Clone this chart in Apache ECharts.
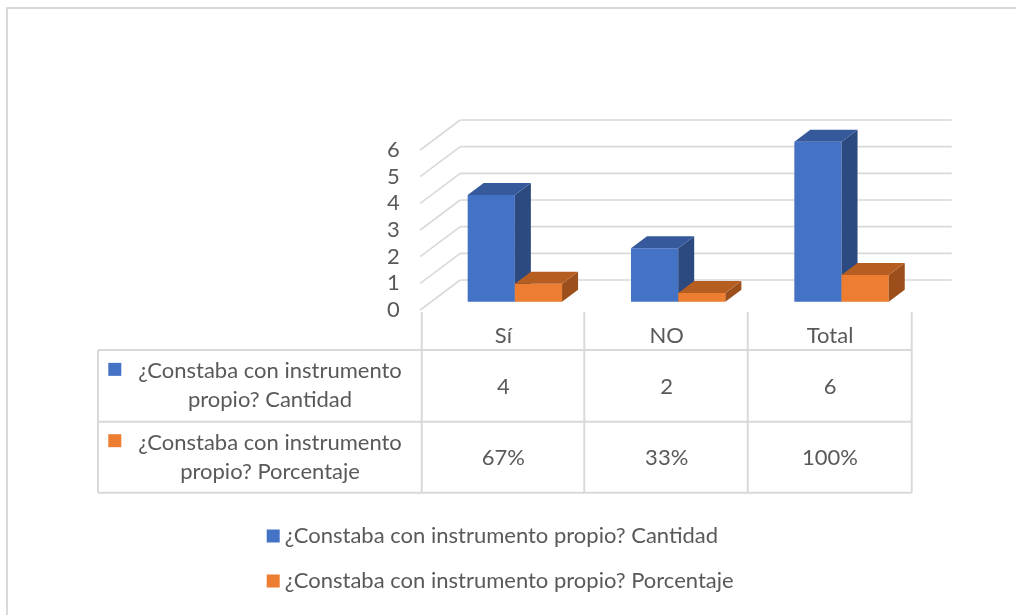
<!DOCTYPE html>
<html>
<head>
<meta charset="utf-8">
<style>
  html, body { margin: 0; padding: 0; background: #fff; }
  #chart { width: 1016px; height: 615px; }
</style>
<script src="https://cdn.jsdelivr.net/npm/echarts@6/dist/echarts.min.js"></script>
</head>
<body>
<div id="chart"></div>
<script>
// data
var categories = ['Sí', 'NO', 'Total'];
var cantidad = [4, 2, 6];
var porcentaje = [0.67, 0.33, 1.0];
var seriesNames = [
    '¿Constaba con instrumento propio? Cantidad',
    '¿Constaba con instrumento propio? Porcentaje'
];
var yTicks = [0, 1, 2, 3, 4, 5, 6];

var FONT = 'Lato, "Liberation Sans", sans-serif';
var FS = 22;
var TEXT = '#595959';
var LINE = '#D9D9D9';

// fake 3D look of the Excel chart
var WALL_DX = 40, WALL_DY = 30;   // depth of the back wall
var BAR_SX = 11.5, BAR_SY = 8.3;  // bars sit a bit behind the front plane
var BAR_DX = 16, BAR_DY = 12;     // depth of each bar
var BAR_FRAC = 0.289;             // bar width as part of the category band

var colors = [
    { front: '#4472C4', top: '#35599B', side: '#2C4A80' },
    { front: '#ED7D31', top: '#B65E22', side: '#9C4F1B' }
];

function pct(v) { return Math.round(v * 100) + '%'; }

function wallRenderer(params, api) {
    var p = api.coord([0, api.value(1)]);
    var catW = api.size([1, 0])[0];
    var xl = p[0] - catW / 2 - 1.5;
    var xr = xl + categories.length * catW + 1.5;
    var style = { stroke: LINE, lineWidth: 1.6 };
    return {
        type: 'group',
        children: [
            { type: 'line', shape: { x1: xl, y1: p[1], x2: xl + WALL_DX, y2: p[1] - WALL_DY }, style: style },
            { type: 'line', shape: { x1: xl + WALL_DX, y1: p[1] - WALL_DY, x2: xr + WALL_DX, y2: p[1] - WALL_DY }, style: style }
        ]
    };
}

function barRenderer(idx) {
    var c = colors[idx];
    return function(params, api) {
        var cat = api.value(0), val = api.value(1);
        var base = api.coord([cat, 0]);
        var tip = api.coord([cat, val]);
        var catW = api.size([1, 0])[0];
        var w = catW * BAR_FRAC;
        var x0 = base[0] - w + idx * w + BAR_SX;
        var x1 = x0 + w;
        var yb = base[1] - BAR_SY;
        var yt = tip[1] - BAR_SY;
        return {
            type: 'group',
            children: [
                { type: 'rect', shape: { x: x0, y: yt, width: w, height: yb - yt }, style: { fill: c.front } },
                { type: 'polygon', shape: { points: [[x1, yt], [x1 + BAR_DX, yt - BAR_DY], [x1 + BAR_DX, yb - BAR_DY], [x1, yb]] }, style: { fill: c.side } },
                { type: 'polygon', shape: { points: [[x0, yt], [x0 + BAR_DX, yt - BAR_DY], [x1 + BAR_DX, yt - BAR_DY], [x1, yt]] }, style: { fill: c.top } }
            ]
        };
    };
}

function tableAxis(labels, margin) {
    return {
        type: 'category', data: categories, gridIndex: 0,
        position: 'bottom',
        axisLine: { show: false }, axisTick: { show: false },
        axisLabel: {
            margin: margin, verticalAlign: 'middle', interval: 0,
            fontFamily: FONT, fontSize: FS, color: TEXT,
            formatter: function(v, i) { return labels[i]; }
        }
    };
}

var chart = echarts.init(document.getElementById('chart'), null, { renderer: 'canvas' });

// table frame (data table under the plot, Excel style)
var tblLeft = 98, tblRight = 911.7, colX = [421.7, 584.3, 747.7, 911.7];
var rowY = [350, 421.7, 492.7];
var graphics = [
    { type: 'rect', shape: { x: 7, y: 8, width: 1100, height: 700 }, style: { fill: null, stroke: LINE, lineWidth: 2 }, silent: true }
];
rowY.forEach(function(y) {
    graphics.push({ type: 'line', shape: { x1: tblLeft, y1: y, x2: tblRight, y2: y }, style: { stroke: LINE, lineWidth: 2 } });
});
graphics.push({ type: 'line', shape: { x1: tblLeft, y1: rowY[0], x2: tblLeft, y2: rowY[2] }, style: { stroke: LINE, lineWidth: 2 } });
colX.forEach(function(x) {
    graphics.push({ type: 'line', shape: { x1: x, y1: 312, x2: x, y2: rowY[2] }, style: { stroke: LINE, lineWidth: 2 } });
});
seriesNames.forEach(function(name, i) {
    var cy = (rowY[i] + rowY[i + 1]) / 2;
    graphics.push({
        type: 'text', x: 270, y: cy,
        style: {
            text: name.replace(' propio?', '\npropio?'),
            align: 'center', verticalAlign: 'middle', lineHeight: 29,
            font: FS + 'px ' + FONT, fill: TEXT
        }
    });
    graphics.push({ type: 'rect', shape: { x: 108.3, y: cy - 23, width: 13, height: 13 }, style: { fill: colors[i].front } });
});

chart.setOption({
    animation: false,
    grid: { left: 421.7, right: 104.3, top: 150, bottom: 305 },
    xAxis: [
        {
            type: 'category', data: categories,
            axisLine: { show: false }, axisTick: { show: false },
            axisLabel: { margin: 26, verticalAlign: 'middle', fontFamily: FONT, fontSize: FS, color: TEXT }
        },
        tableAxis(cantidad.map(String), 76.5),
        tableAxis(porcentaje.map(pct), 147.5)
    ],
    yAxis: {
        type: 'value', min: 0, max: 6, interval: 1,
        axisLine: { show: false }, axisTick: { show: false }, splitLine: { show: false },
        axisLabel: { margin: 22, fontFamily: FONT, fontSize: FS, color: TEXT, padding: [8, 0, 0, 0] }
    },
    legend: {
        orient: 'vertical', left: 266.7, top: 525, padding: 0,
        itemWidth: 13, itemHeight: 13, itemGap: 23,
        textStyle: { fontFamily: FONT, fontSize: FS, color: TEXT, lineHeight: 22 },
        data: seriesNames.map(function(n, i) {
            return { name: n, icon: 'rect', itemStyle: { color: colors[i].front } };
        })
    },
    graphic: graphics,
    series: [
        {
            type: 'custom', silent: true, renderItem: wallRenderer,
            data: yTicks.map(function(v) { return [0, v]; })
        },
        {
            name: seriesNames[0], type: 'custom', renderItem: barRenderer(0),
            itemStyle: { color: colors[0].front },
            data: cantidad.map(function(v, i) { return [i, v]; })
        },
        {
            name: seriesNames[1], type: 'custom', renderItem: barRenderer(1),
            itemStyle: { color: colors[1].front },
            data: porcentaje.map(function(v, i) { return [i, v]; })
        }
    ]
});
</script>
</body>
</html>
